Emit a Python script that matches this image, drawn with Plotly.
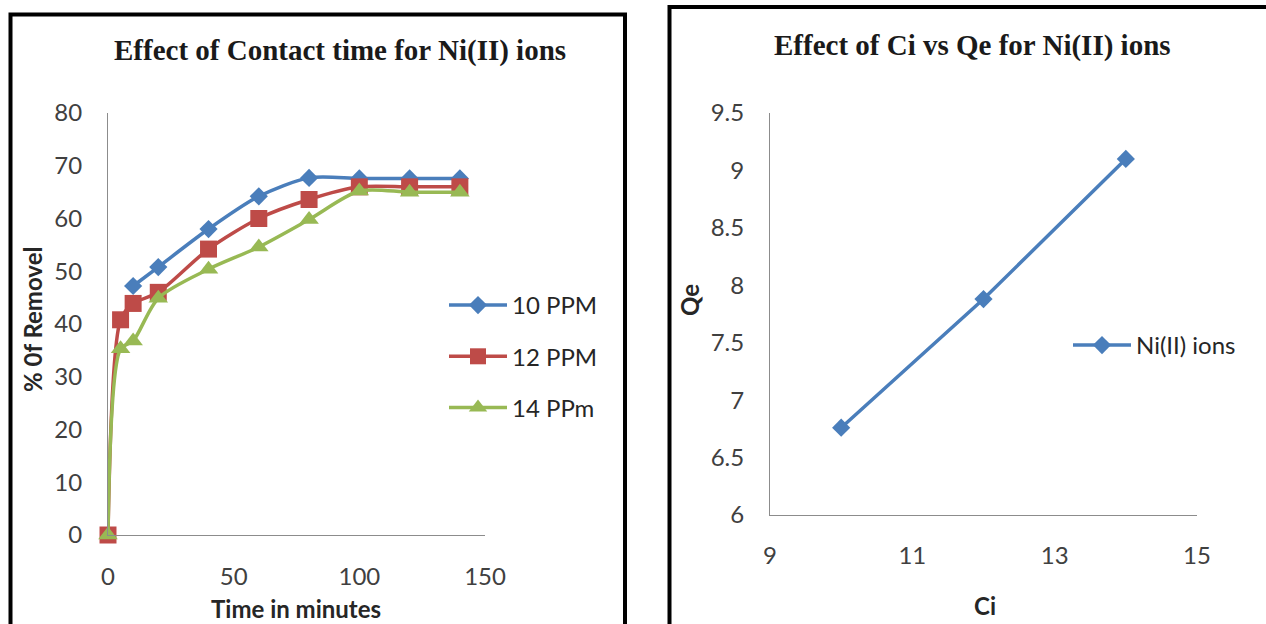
import plotly.graph_objects as go

# ---- Data: left chart (Effect of contact time) ----
time_10 = [10, 20, 40, 60, 80, 100, 120, 140]
ppm10 = [47.2, 50.8, 58.0, 64.2, 67.7, 67.6, 67.6, 67.6]
time_12 = [0, 5, 10, 20, 40, 60, 80, 100, 120, 140]
ppm12 = [0, 40.8, 43.9, 46.0, 54.2, 60.0, 63.6, 66.0, 66.0, 66.0]
time_14 = [0, 5, 10, 20, 40, 60, 80, 100, 120, 140]
ppm14 = [0, 35.3, 36.8, 44.9, 50.4, 54.6, 59.8, 65.2, 65.0, 65.0]

# ---- Data: right chart (Ci vs Qe) ----
ci = [10, 12, 14]
qe = [6.76, 7.88, 9.10]

W, H = 1266, 624
def px(x):
    return x / W
def py(y):
    return 1 - y / H

BLUE = "#4A7EBB"
RED = "#BE4B48"
GREEN = "#98B954"
SANS = "Lato, Carlito, Calibri, sans-serif"
TICK_FONT = dict(family=SANS, size=24, color="#404040")
AX_COLOR = "#8C8C8C"

fig = go.Figure()

fig.add_trace(go.Scatter(x=time_10, y=ppm10, name="10 PPM", mode="lines+markers",
                         line=dict(color=BLUE, width=3.5, shape="spline", smoothing=0.8),
                         marker=dict(symbol="diamond", size=14, color=BLUE),
                         cliponaxis=False,
                         xaxis="x", yaxis="y", legend="legend", legendgroup="a"))
fig.add_trace(go.Scatter(x=time_12, y=ppm12, name="12 PPM", mode="lines+markers",
                         line=dict(color=RED, width=3.5, shape="spline", smoothing=0.8),
                         marker=dict(symbol="square", size=17, color=RED),
                         cliponaxis=False,
                         xaxis="x", yaxis="y", legend="legend", legendgroup="b"))
fig.add_trace(go.Scatter(x=time_14, y=ppm14, name="14 PPm", mode="lines+markers",
                         line=dict(color=GREEN, width=3.5, shape="spline", smoothing=0.8),
                         marker=dict(symbol="triangle-up", size=17, color=GREEN),
                         cliponaxis=False,
                         xaxis="x", yaxis="y", legend="legend", legendgroup="c"))

fig.add_trace(go.Scatter(x=ci, y=qe, name="Ni(II) ions", mode="lines+markers",
                         line=dict(color=BLUE, width=3.5),
                         marker=dict(symbol="diamond", size=14, color=BLUE),
                         cliponaxis=False,
                         xaxis="x2", yaxis="y2", legend="legend2"))

axis_common = dict(showgrid=False, zeroline=False, showline=True, linecolor=AX_COLOR,
                   linewidth=1, ticks="", tickfont=TICK_FONT, automargin=False)

fig.update_layout(
    template="none",
    width=W, height=H,
    margin=dict(l=0, r=0, t=0, b=0, pad=0, autoexpand=False),
    paper_bgcolor="white", plot_bgcolor="white",
    xaxis=dict(domain=[px(108), px(485)], range=[0, 150], tickvals=[0, 50, 100, 150],
               anchor="y", ticklabelstandoff=20, **axis_common),
    yaxis=dict(domain=[py(535), py(113)], range=[0, 80], tickvals=list(range(0, 81, 10)),
               anchor="x", ticklabelstandoff=20, **axis_common),
    xaxis2=dict(domain=[px(770), px(1197)], range=[9, 15], tickvals=[9, 11, 13, 15],
                anchor="y2", ticklabelstandoff=19, **axis_common),
    yaxis2=dict(domain=[py(515), py(113)], range=[6, 9.5],
                tickvals=[6, 6.5, 7, 7.5, 8, 8.5, 9, 9.5],
                ticktext=["6", "6.5", "7", "7.5", "8", "8.5", "9", "9.5"],
                anchor="x2", ticklabelstandoff=20, **axis_common),
    legend=dict(x=px(444), y=py(283), xanchor="left", yanchor="top",
                font=dict(family=SANS, size=24, color="#262626"),
                bgcolor="rgba(0,0,0,0)", tracegroupgap=17, traceorder="grouped",
                itemwidth=58),
    legend2=dict(x=px(1068), y=py(323), xanchor="left", yanchor="top",
                 font=dict(family=SANS, size=24, color="#262626"),
                 bgcolor="rgba(0,0,0,0)", itemwidth=58),
    showlegend=True,
)

TITLE_FONT = dict(family="Liberation Serif, Times New Roman, serif", size=29, color="#1a1a1a")
LABEL_FONT = dict(family=SANS, size=24, color="#262626")

annotations = [
    dict(text="<b>Effect of Contact time for Ni(II) ions</b>", x=px(340), y=py(50),
         font=TITLE_FONT),
    dict(text="<b>Effect of Ci vs Qe for Ni(II) ions</b>", x=px(972), y=py(46),
         font=TITLE_FONT),
    dict(text="<b>% 0f Removel</b>", x=px(32), y=py(320), textangle=-90, font=LABEL_FONT),
    dict(text="<b>Time in minutes</b>", x=px(296), y=py(608), font=LABEL_FONT),
    dict(text="<b>Qe</b>", x=px(689), y=py(300), textangle=-90, font=LABEL_FONT),
    dict(text="<b>Ci</b>", x=px(985), y=py(605), font=LABEL_FONT),
]
for a in annotations:
    a.update(xref="paper", yref="paper", showarrow=False, xanchor="center", yanchor="middle")
fig.update_layout(annotations=annotations)

# panel borders
fig.update_layout(shapes=[
    dict(type="rect", xref="paper", yref="paper", x0=px(10.5), x1=px(625), y0=-0.2, y1=py(14.5),
         line=dict(color="black", width=4), fillcolor="rgba(0,0,0,0)", layer="above"),
    dict(type="rect", xref="paper", yref="paper", x0=px(669.5), x1=1.2, y0=-0.2, y1=py(7),
         line=dict(color="black", width=4), fillcolor="rgba(0,0,0,0)", layer="above"),
])

fig.write_html("out.html")
